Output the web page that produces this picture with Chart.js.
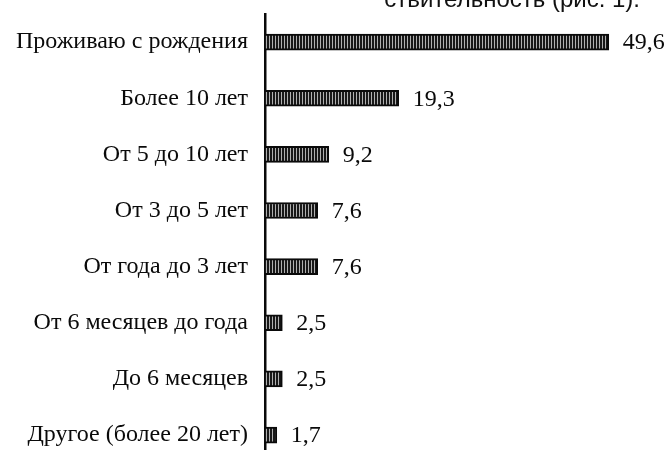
<!DOCTYPE html>
<html>
<head>
<meta charset="utf-8">
<script src="https://cdn.jsdelivr.net/npm/chart.js@4/dist/chart.umd.min.js"></script>
<style>
  html, body { margin: 0; padding: 0; background: #fff; overflow: hidden; }
  #wrap { position: relative; width: 667px; height: 450px; }
  #note { position: absolute; right: 27px; top: -13px; font: 24px/24px "Liberation Sans", Arial, sans-serif; color: #111; white-space: nowrap; }
</style>
</head>
<body>
<div id="wrap">
  <canvas id="c" width="667" height="450"></canvas>
  <div id="note">ствительность (рис. 1).</div>
</div>
<script>
const categories = [
  "Проживаю с рождения",
  "Более 10 лет",
  "От 5 до 10 лет",
  "От 3 до 5 лет",
  "От года до 3 лет",
  "От 6 месяцев до года",
  "До 6 месяцев",
  "Другое (более 20 лет)"
];
const values = [49.6, 19.3, 9.2, 7.6, 7.6, 2.5, 2.5, 1.7];
const valueLabels = ["49,6", "19,3", "9,2", "7,6", "7,6", "2,5", "2,5", "1,7"];

// striped fill pattern
const pc = document.createElement('canvas');
pc.width = 3; pc.height = 4;
const pctx = pc.getContext('2d');
pctx.fillStyle = '#181818'; pctx.fillRect(0, 0, 3, 4);
pctx.fillStyle = '#b0b0b0'; pctx.fillRect(2, 0, 1, 4);
const stripes = document.getElementById('c').getContext('2d').createPattern(pc, 'repeat');

const SERIF = '"Liberation Serif", "Times New Roman", serif';

const valueLabelPlugin = {
  id: 'valueLabels',
  afterDatasetsDraw(chart) {
    const ctx = chart.ctx;
    const meta = chart.getDatasetMeta(0);
    ctx.save();
    ctx.font = '24px ' + SERIF;
    ctx.fillStyle = '#0a0a0a';
    ctx.textAlign = 'left';
    ctx.textBaseline = 'middle';
    meta.data.forEach((bar, i) => {
      ctx.fillText(valueLabels[i], bar.x + 14, bar.y + 1);
    });
    ctx.restore();
  }
};

new Chart(document.getElementById('c'), {
  type: 'bar',
  data: {
    datasets: [{
      data: values.map((v, i) => ({ x: v, y: i })),
      backgroundColor: stripes,
      borderColor: '#0a0a0a',
      borderWidth: 2,
      barThickness: 16
    }]
  },
  options: {
    indexAxis: 'y',
    responsive: false,
    animation: false,
    layout: { padding: { top: 14, right: 0, bottom: 0, left: 0 } },
    plugins: { legend: { display: false }, tooltip: { enabled: false } },
    scales: {
      x: { type: 'linear', min: 0, max: 58, display: false },
      y: {
        type: 'linear',
        reverse: true,
        offset: false,
        bounds: 'data',
        min: -0.5,
        max: 7.266,
        afterBuildTicks: s => { s.ticks = categories.map((c, i) => ({ value: i })); },
        afterFit: s => { s.width = 265; s.paddingTop = 0; s.paddingBottom = 0; },
        grid: { display: false, drawTicks: false },
        border: { display: true, color: '#0a0a0a', width: 2.5 },
        ticks: {
          padding: 17,
          color: '#0a0a0a',
          font: { family: SERIF, size: 24 },
          callback: v => categories[v]
        }
      }
    }
  },
  plugins: [valueLabelPlugin]
});
</script>
</body>
</html>
